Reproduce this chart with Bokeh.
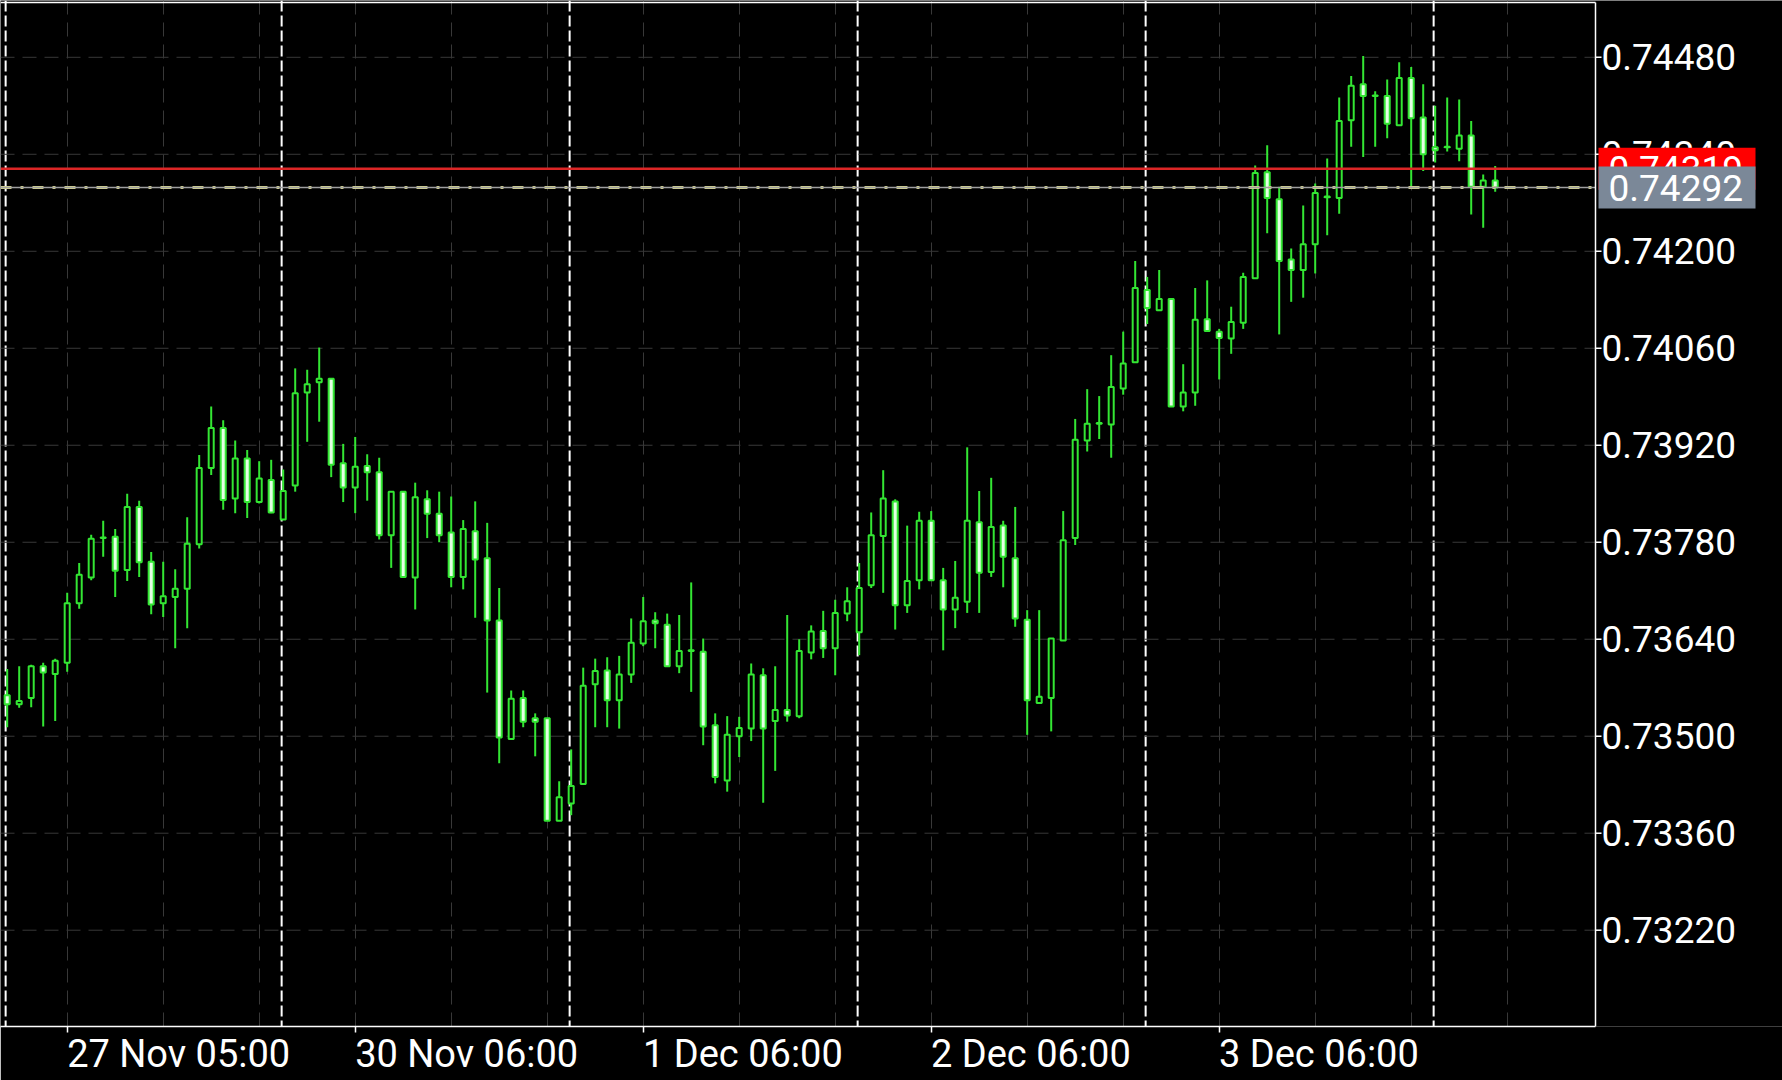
from bokeh.plotting import figure
from bokeh.models import Range1d, FixedTicker, Span, ColumnDataSource
from bokeh.embed import file_html
from bokeh.resources import INLINE
from bokeh.core.properties import value

# ---------------- data (H1 candles, 27 Nov 00:00 .. 4 Dec 05:00) ----------------
opens = [0.73559, 0.73546, 0.73555, 0.73601, 0.73590, 0.73606, 0.73692, 0.73729, 0.73786, 0.73788,
         0.73740, 0.73831, 0.73752, 0.73692, 0.73701, 0.73713, 0.73777, 0.73887, 0.73945, 0.73843,
         0.73901, 0.73838, 0.73870, 0.73813, 0.73862, 0.73996, 0.74011, 0.74016, 0.73894, 0.73859,
         0.73890, 0.73881, 0.73790, 0.73853, 0.73729, 0.73842, 0.73821, 0.73794, 0.73730, 0.73796,
         0.73757, 0.73667, 0.73496, 0.73555, 0.73526, 0.73526, 0.73378, 0.73403, 0.73431, 0.73575,
         0.73595, 0.73552, 0.73589, 0.73634, 0.73667, 0.73661, 0.73601, 0.73623, 0.73622, 0.73516,
         0.73436, 0.73500, 0.73511, 0.73588, 0.73522, 0.73538, 0.73529, 0.73621, 0.73652, 0.73627,
         0.73677, 0.73650, 0.73718, 0.73789, 0.73839, 0.73689, 0.73725, 0.73811, 0.73725, 0.73683,
         0.73694, 0.73809, 0.73737, 0.73804, 0.73757, 0.73668, 0.73548, 0.73555, 0.73638, 0.73786,
         0.73927, 0.73951, 0.73950, 0.74002, 0.74040, 0.74144, 0.74115, 0.74131, 0.73976, 0.73996,
         0.74102, 0.74084, 0.74074, 0.74097, 0.74161, 0.74314, 0.74275, 0.74188, 0.74173, 0.74210,
         0.74278, 0.74277, 0.74389, 0.74441, 0.74425, 0.74424, 0.74382, 0.74450, 0.74393, 0.74350,
         0.74351, 0.74348, 0.74367, 0.74293, 0.74302]
highs = [0.73597, 0.73601, 0.73603, 0.73606, 0.73612, 0.73707, 0.73750, 0.73791, 0.73811, 0.73799,
         0.73850, 0.73840, 0.73766, 0.73752, 0.73741, 0.73816, 0.73906, 0.73976, 0.73956, 0.73927,
         0.73913, 0.73897, 0.73899, 0.73885, 0.74031, 0.74029, 0.74061, 0.74017, 0.73922, 0.73932,
         0.73907, 0.73902, 0.73853, 0.73853, 0.73866, 0.73855, 0.73853, 0.73846, 0.73812, 0.73839,
         0.73808, 0.73714, 0.73566, 0.73566, 0.73533, 0.73526, 0.73435, 0.73481, 0.73599, 0.73612,
         0.73614, 0.73616, 0.73670, 0.73701, 0.73679, 0.73677, 0.73675, 0.73722, 0.73641, 0.73533,
         0.73529, 0.73528, 0.73605, 0.73598, 0.73601, 0.73675, 0.73640, 0.73660, 0.73681, 0.73697,
         0.73715, 0.73750, 0.73823, 0.73884, 0.73842, 0.73804, 0.73824, 0.73825, 0.73743, 0.73753,
         0.73917, 0.73854, 0.73873, 0.73811, 0.73831, 0.73682, 0.73682, 0.73641, 0.73825, 0.73958,
         0.74001, 0.73991, 0.74050, 0.74084, 0.74186, 0.74163, 0.74173, 0.74132, 0.74037, 0.74147,
         0.74158, 0.74088, 0.74120, 0.74169, 0.74324, 0.74353, 0.74293, 0.74204, 0.74266, 0.74298,
         0.74334, 0.74422, 0.74453, 0.74482, 0.74431, 0.74448, 0.74473, 0.74466, 0.74441, 0.74410,
         0.74422, 0.74419, 0.74388, 0.74311, 0.74323]
lows = [0.73513, 0.73541, 0.73542, 0.73514, 0.73522, 0.73593, 0.73684, 0.73725, 0.73759, 0.73701,
        0.73724, 0.73730, 0.73676, 0.73672, 0.73627, 0.73656, 0.73771, 0.73877, 0.73827, 0.73822,
        0.73815, 0.73836, 0.73822, 0.73812, 0.73853, 0.73925, 0.73954, 0.73874, 0.73838, 0.73822,
        0.73840, 0.73784, 0.73743, 0.73730, 0.73683, 0.73786, 0.73780, 0.73715, 0.73712, 0.73671,
        0.73563, 0.73461, 0.73496, 0.73513, 0.73471, 0.73378, 0.73378, 0.73386, 0.73431, 0.73513,
        0.73513, 0.73511, 0.73577, 0.73630, 0.73627, 0.73601, 0.73591, 0.73564, 0.73487, 0.73432,
        0.73420, 0.73470, 0.73493, 0.73404, 0.73450, 0.73521, 0.73526, 0.73611, 0.73613, 0.73588,
        0.73666, 0.73617, 0.73714, 0.73707, 0.73654, 0.73678, 0.73712, 0.73725, 0.73624, 0.73656,
        0.73678, 0.73678, 0.73730, 0.73715, 0.73658, 0.73502, 0.73548, 0.73507, 0.73638, 0.73776,
        0.73911, 0.73929, 0.73902, 0.73993, 0.74040, 0.74095, 0.74115, 0.73976, 0.73969, 0.73977,
        0.74085, 0.74015, 0.74052, 0.74088, 0.74161, 0.74226, 0.74080, 0.74127, 0.74133, 0.74168,
        0.74223, 0.74254, 0.74351, 0.74336, 0.74351, 0.74363, 0.74382, 0.74293, 0.74316, 0.74328,
        0.74344, 0.74330, 0.74253, 0.74234, 0.74286]
closes = [0.73546, 0.73551, 0.73601, 0.73592, 0.73609, 0.73692, 0.73733, 0.73785, 0.73787, 0.73739,
          0.73831, 0.73751, 0.73690, 0.73702, 0.73713, 0.73778, 0.73887, 0.73945, 0.73841, 0.73901,
          0.73838, 0.73872, 0.73823, 0.73854, 0.73995, 0.74008, 0.74016, 0.73892, 0.73859, 0.73889,
          0.73881, 0.73790, 0.73853, 0.73730, 0.73845, 0.73821, 0.73790, 0.73730, 0.73799, 0.73755,
          0.73667, 0.73498, 0.73554, 0.73521, 0.73521, 0.73378, 0.73412, 0.73428, 0.73573, 0.73594,
          0.73552, 0.73589, 0.73635, 0.73666, 0.73663, 0.73601, 0.73623, 0.73624, 0.73514, 0.73441,
          0.73502, 0.73512, 0.73589, 0.73511, 0.73538, 0.73530, 0.73623, 0.73651, 0.73627, 0.73678,
          0.73695, 0.73714, 0.73790, 0.73843, 0.73689, 0.73724, 0.73811, 0.73725, 0.73683, 0.73700,
          0.73811, 0.73736, 0.73802, 0.73759, 0.73670, 0.73552, 0.73557, 0.73641, 0.73783, 0.73928,
          0.73951, 0.73952, 0.74004, 0.74038, 0.74147, 0.74118, 0.74131, 0.73976, 0.73996, 0.74101,
          0.74085, 0.74075, 0.74098, 0.74163, 0.74313, 0.74277, 0.74186, 0.74173, 0.74210, 0.74284,
          0.74279, 0.74388, 0.74439, 0.74424, 0.74424, 0.74384, 0.74450, 0.74392, 0.74340, 0.74346,
          0.74350, 0.74367, 0.74293, 0.74302, 0.74292]

ask_price = 0.74319
bid_price = closes[-1]

day_start_bars = [0, 23, 47, 71, 95, 119]          # 27 Nov, 30 Nov, 1 Dec, 2 Dec, 3 Dec, 4 Dec
time_tick_bars = [5, 29, 53, 77, 101]
time_tick_labels = ["27 Nov 05:00", "30 Nov 06:00", "1 Dec 06:00", "2 Dec 06:00", "3 Dec 06:00"]
price_ticks = [0.73220, 0.73360, 0.73500, 0.73640, 0.73780, 0.73920, 0.74060, 0.74200, 0.74340, 0.74480]

# ---------------- layout / style constants ----------------
GREEN = "#33e633"
BEAR_FILL = "#e4ffe4"
FONT = "Roboto"
FSIZE = "37px"
XFSIZE = "38px"
PX = 12.0                         # pixels per bar
W, H = 1782, 1080
X_START = -6.7 / PX
CHART_END = X_START + 1595 / PX   # right border of the price chart
X_END = X_START + W / PX
Y_RANGE = (0.730810, 0.745620)
TOP_LINE = Y_RANGE[1] - 0.00003  # thin frame line near the top edge
# half label widths (in bars) so that the date labels start at their tick
label_half = [9.29, 9.29, 8.31, 8.31, 8.31]

n = len(opens)
idx = list(range(n))
bull = [c >= o for o, c in zip(opens, closes)]

src_bull = ColumnDataSource(dict(
    x=[i for i in idx if bull[i]],
    top=[closes[i] for i in idx if bull[i]],
    bottom=[opens[i] for i in idx if bull[i]]))
src_bear = ColumnDataSource(dict(
    x=[i for i in idx if not bull[i]],
    top=[opens[i] for i in idx if not bull[i]],
    bottom=[closes[i] for i in idx if not bull[i]]))
src_wick = ColumnDataSource(dict(x=idx, high=highs, low=lows))

p = figure(width=W, height=H, output_backend="svg", toolbar_location=None,
           x_range=Range1d(X_START, X_END), y_range=Range1d(*Y_RANGE),
           y_axis_location=None,
           min_border_left=0, min_border_top=0, min_border_right=0, min_border_bottom=54,
           background_fill_color="black", border_fill_color="black",
           outline_line_color=None)

# vertical faint grid (every 8 bars)
p.xgrid.ticker = FixedTicker(ticks=list(range(5, 133, 8)))
p.xgrid.grid_line_color = "#383838"
p.xgrid.grid_line_dash = "14 8"
p.xgrid.grid_line_width = 1
p.ygrid.visible = False

# horizontal faint grid at price levels (only across the chart area)
gsrc = ColumnDataSource(dict(y=price_ticks))
p.segment(x0=X_START, x1=CHART_END, y0="y", y1="y", source=gsrc,
          line_color="#383838", line_dash="14 8", line_width=1)

# day separators
for b in day_start_bars:
    p.add_layout(Span(location=b - 0.13, dimension="height", line_color="white",
                      line_width=2, line_dash="11 4", level="underlay"))

# candles
p.segment(x0="x", y0="low", x1="x", y1="high", source=src_wick, line_color=GREEN, line_width=2)
p.vbar(x="x", width=0.42, top="top", bottom="bottom", source=src_bull,
       fill_color="black", line_color=GREEN, line_width=2)
p.vbar(x="x", width=0.42, top="top", bottom="bottom", source=src_bear,
       fill_color=BEAR_FILL, line_color=GREEN, line_width=2)

# ask / bid lines (chart area only)
p.segment(x0=X_START, x1=CHART_END, y0=ask_price, y1=ask_price,
          line_color="#dc2626", line_width=2.5)
p.segment(x0=X_START, x1=CHART_END, y0=bid_price, y1=bid_price,
          line_color="#d6d68e", line_width=3, line_dash="11 9 3 9")
p.segment(x0=X_START, x1=CHART_END, y0=bid_price, y1=bid_price,
          line_color="#a0a0a0", line_width=1.5)

# chart frame: top line and right border (price scale line)
p.segment(x0=X_START, x1=CHART_END, y0=TOP_LINE, y1=TOP_LINE, line_color="white", line_width=1.5)
p.segment(x0=CHART_END, x1=CHART_END, y0=Y_RANGE[0], y1=TOP_LINE,
          line_color="white", line_width=1.5)

# price scale ticks + labels
psrc = ColumnDataSource(dict(y=price_ticks, text=[f"{t:.5f}" for t in price_ticks]))
p.segment(x0=CHART_END, x1=CHART_END + 6 / PX, y0="y", y1="y", source=psrc,
          line_color="white", line_width=1.5)
p.text(x=CHART_END, y="y", text="text", source=psrc, x_offset=6,
       text_font=value(FONT), text_font_size=value(FSIZE), text_color="white",
       text_align="left", text_baseline="middle")

# price tags: ask (red) first, bid (grey) drawn on top of it
for price, color in [(ask_price, "#ff0000"), (bid_price, "#7b8898")]:
    tsrc = ColumnDataSource(dict(y=[price], text=[f"{price:.5f}"]))
    p.rect(x=CHART_END + 81.5 / PX, y="y", width=157, height=42, width_units="screen",
           height_units="screen", source=tsrc, fill_color=color, line_color=None)
    p.text(x=CHART_END, y="y", text="text", source=tsrc, x_offset=13,
           text_font=value(FONT), text_font_size=value(FSIZE), text_color="white",
           text_align="left", text_baseline="middle")

# time axis (bottom): minor ticks mark the times, labels start at the tick
label_centers = [round(b + h, 2) for b, h in zip(time_tick_bars, label_half)]
xa = p.xaxis[0]
xa.ticker = FixedTicker(ticks=label_centers, minor_ticks=time_tick_bars)
xa.major_label_overrides = {c: l for c, l in zip(label_centers, time_tick_labels)}
xa.bounds = (X_START, CHART_END)
xa.axis_line_color = "white"
xa.axis_line_width = 1.5
xa.major_tick_line_color = None
xa.major_tick_out = 0
xa.major_tick_in = 0
xa.minor_tick_line_color = "white"
xa.minor_tick_line_width = 1.5
xa.minor_tick_out = 6
xa.minor_tick_in = 0
xa.major_label_standoff = -1
xa.major_label_text_font = FONT
xa.major_label_text_font_size = XFSIZE
xa.major_label_text_color = "white"

open("out.html", "w").write(file_html(p, INLINE))
